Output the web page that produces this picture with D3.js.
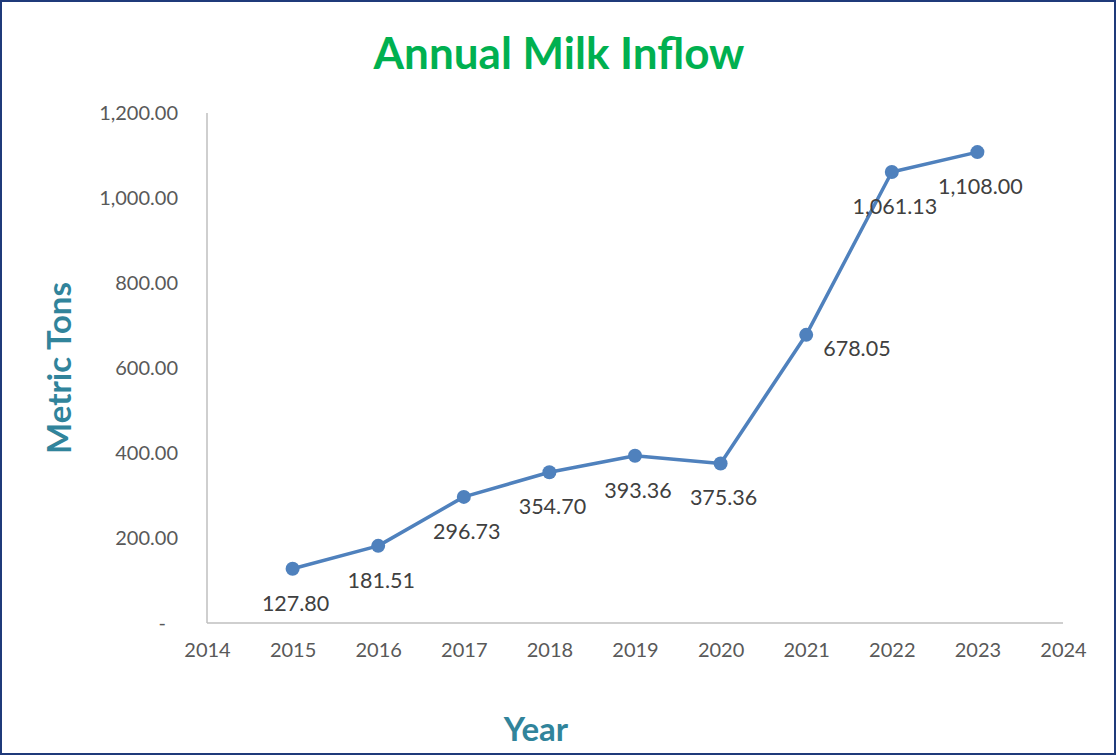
<!DOCTYPE html>
<html>
<head>
<meta charset="utf-8">
<script src="https://cdn.jsdelivr.net/npm/d3@7"></script>
<style>
  body { margin: 0; background: #fff; }
</style>
</head>
<body>
<div id="container"></div>
<script>
let years = [2015, 2016, 2017, 2018, 2019, 2020, 2021, 2022, 2023];
let inflow = [127.80, 181.51, 296.73, 354.70, 393.36, 375.36, 678.05, 1061.13, 1108.00];
let yTicks = [0, 200, 400, 600, 800, 1000, 1200];
let xTicks = [2014, 2015, 2016, 2017, 2018, 2019, 2020, 2021, 2022, 2023, 2024];
// where each value label sits relative to its point
let labelPlace = ["below", "below", "below", "below", "below", "below", "right", "below", "below"];

let w = 1116;
let h = 755;
let font = "Lato, 'Open Sans', sans-serif";

let viz = d3.select("#container")
  .append("svg")
  .attr("width", w)
  .attr("height", h)
  .style("background-color", "#fff");

// outer border
viz.append("rect")
  .attr("x", 1).attr("y", 1)
  .attr("width", w - 2).attr("height", h - 2)
  .attr("fill", "none")
  .attr("stroke", "#1F3A7A")
  .attr("stroke-width", 2);

let xScale = d3.scaleLinear().domain([2014, 2024]).range([207, 1063]);
let yScale = d3.scaleLinear().domain([0, 1200]).range([623, 113]);

// axis lines
viz.append("line")
  .attr("x1", xScale(2014)).attr("x2", xScale(2014))
  .attr("y1", yScale(1200)).attr("y2", yScale(0))
  .attr("stroke", "#BFBFBF").attr("stroke-width", 1.5);
viz.append("line")
  .attr("x1", xScale(2014)).attr("x2", xScale(2024))
  .attr("y1", yScale(0)).attr("y2", yScale(0))
  .attr("stroke", "#BFBFBF").attr("stroke-width", 1.5);

// y axis
let yAxis = d3.axisLeft(yScale)
  .tickValues(yTicks)
  .tickSize(0)
  .tickPadding(29)
  .tickFormat(d => d === 0 ? "-" : d3.format(",.2f")(d));
let yAxisGroup = viz.append("g")
  .attr("transform", "translate(" + xScale(2014) + ",0)")
  .call(yAxis);
yAxisGroup.select(".domain").remove();
yAxisGroup.selectAll("text")
  .attr("font-family", font)
  .attr("font-size", "20px")
  .attr("fill", "#595959");
yAxisGroup.selectAll(".tick")
  .filter(d => d === 0)
  .select("text")
  .attr("dx", -12);

// x axis
let xAxis = d3.axisBottom(xScale)
  .tickValues(xTicks)
  .tickSize(0)
  .tickPadding(20)
  .tickFormat(d3.format("d"));
let xAxisGroup = viz.append("g")
  .attr("transform", "translate(0," + yScale(0) + ")")
  .call(xAxis);
xAxisGroup.select(".domain").remove();
xAxisGroup.selectAll("text")
  .attr("font-family", font)
  .attr("font-size", "20px")
  .attr("fill", "#595959");

let data = years.map((y, i) => ({ year: y, value: inflow[i], place: labelPlace[i] }));

let line = d3.line()
  .x(d => xScale(d.year))
  .y(d => yScale(d.value));

viz.append("path")
  .datum(data)
  .attr("fill", "none")
  .attr("stroke", "#4F81BD")
  .attr("stroke-width", 3.5)
  .attr("stroke-linejoin", "round")
  .attr("d", line);

viz.selectAll(".dot")
  .data(data)
  .enter()
  .append("circle")
  .attr("class", "dot")
  .attr("cx", d => xScale(d.year))
  .attr("cy", d => yScale(d.value))
  .attr("r", 7)
  .attr("fill", "#4F81BD");

viz.selectAll(".lbl")
  .data(data)
  .enter()
  .append("text")
  .attr("class", "lbl")
  .attr("x", d => d.place === "right" ? xScale(d.year) + 17 : xScale(d.year) + 3)
  .attr("y", d => d.place === "right" ? yScale(d.value) + 21 : yScale(d.value) + 42)
  .attr("text-anchor", d => d.place === "right" ? "start" : "middle")
  .attr("font-family", font)
  .attr("font-size", "21.5px")
  .attr("fill", "#404040")
  .text(d => d3.format(",.2f")(d.value));

// titles
viz.append("text")
  .attr("x", 559).attr("y", 69)
  .attr("text-anchor", "middle")
  .attr("font-family", font)
  .attr("font-weight", "bold")
  .attr("font-size", "44px")
  .attr("fill", "#00B050")
  .text("Annual Milk Inflow");

viz.append("text")
  .attr("transform", "translate(71,368) rotate(-90)")
  .attr("text-anchor", "middle")
  .attr("font-family", font)
  .attr("font-weight", "bold")
  .attr("font-size", "33px")
  .attr("fill", "#31849B")
  .text("Metric Tons");

viz.append("text")
  .attr("x", 536).attr("y", 741)
  .attr("text-anchor", "middle")
  .attr("font-family", font)
  .attr("font-weight", "bold")
  .attr("font-size", "33px")
  .attr("fill", "#31849B")
  .text("Year");
</script>
</body>
</html>
